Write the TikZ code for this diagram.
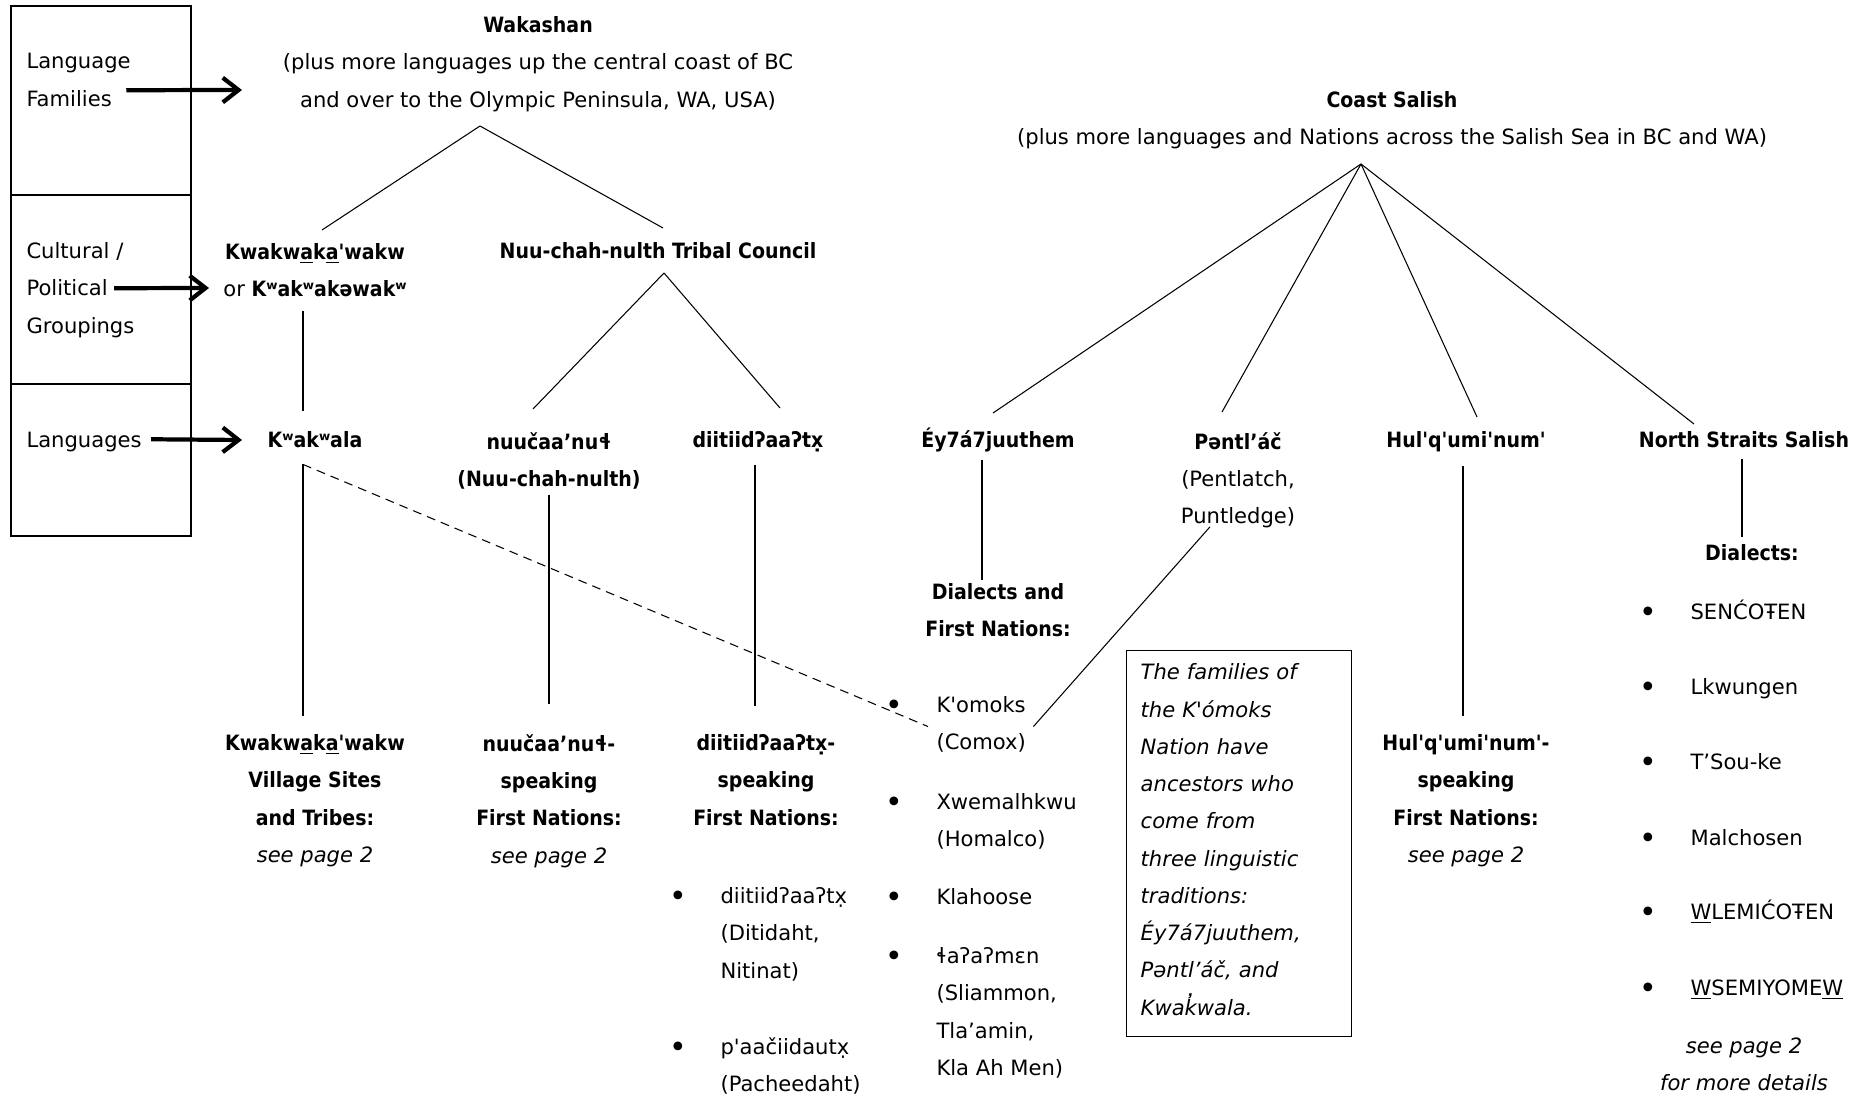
\documentclass[tikz,border=0pt]{standalone}
\usepackage{fontspec}
\setmainfont{DejaVu Sans}[Ligatures=TeXOff,BoldFont={DejaVu Sans Condensed Bold}]
\usepackage{tikz}
\usetikzlibrary{calc}
\usetikzlibrary{arrows.meta}
\newcommand{\dsize}{\fontsize{12}{21.2}\selectfont}
\newcommand{\bul}{\llap{\raisebox{-1.5pt}{\fontsize{17}{17}\selectfont\textbullet}\hspace{0.663cm}}}

\begin{document}
\begin{tikzpicture}[x=0.2mm, y=-0.2mm, line width=0.6pt,
  every node/.style={inner sep=0pt, font=\dsize, execute at begin node={\rule{0pt}{12pt}}},
  lbl/.style={anchor=north west},
  txt/.style={anchor=north, align=center},
  hd/.style={txt, font=\dsize\bfseries},
  itm/.style={anchor=north west, align=left},
  bigarr/.style={line width=2.4pt, -{Straight Barb[length=9pt,width=14pt]}},
  dashln/.style={dash pattern=on 5pt off 3.5pt},
  notebox/.style={draw, line width=0.8pt, anchor=north west, align=left, text width=3.94cm, inner xsep=0.28cm, inner ysep=0.16cm, font=\dsize\itshape, execute at end node={\rule[-7.5pt]{0pt}{1pt}}}]
\useasboundingbox (0,0) rectangle (1850,1096);

% key on the left
\draw[line width=0.8pt] (11,6) rectangle (191,536);
\draw[line width=0.8pt] (11,195) -- (191,195) (11,384) -- (191,384);
\node[lbl] (lf1) at (26,47) {Language};
\node[lbl] (lf2) at (26,85) {Families};
\node[lbl] (cp1) at (26,237) {Cultural /};
\node[lbl] (cp2) at (26,274) {Political};
\node[lbl] (cp3) at (26,312) {Groupings};
\node[lbl] (lg) at (26,426) {Languages};
\coordinate (famtip) at (242,90);
\coordinate (poltip) at (209,288);
\coordinate (lngtip) at (242,440);
\draw[bigarr] ($(lf2.east)+(14,-6)$) -- (famtip);
\draw[bigarr] ($(cp2.east)+(6,3)$) -- (poltip);
\draw[bigarr] ($(lg.east)+(9,0)$) -- (lngtip);

% Wakashan
\node[txt] (wak) at (538,16) {{\bfseries Wakashan}\\(plus more languages up the central coast of BC\\and over to the Olympic Peninsula, WA, USA)};
\coordinate (wak-top) at (480,126);
\node[txt] (kwg) at (315,243) {\textbf{Kwakw\underline{a}k\underline{a}'wakw}\\or \textbf{Kʷakʷakəwakʷ}};
\node[hd] (ntc) at (658,237) {Nuu-chah-nulth Tribal Council};
\coordinate (ntc-top) at (664,273);
\draw (wak-top) -- ($(kwg.north)+(7,-13)$);
\draw (wak-top) -- ($(ntc.north)+(5,-9)$);

\node[hd] (kwl) at (315,426) {Kʷakʷala};
\node[hd] (nuu) at (549,432) {nuučaa’nuɬ\\(Nuu-chah-nulth)};
\node[hd] (diit) at (758,426) {diitiidʔaaʔtx̣};
\draw (ntc-top) -- ($(nuu.north)+(-16,-23)$);
\draw (ntc-top) -- ($(diit.north)+(22,-18)$);

\node[txt] (kwb) at (315,734) {\textbf{Kwakw\underline{a}k\underline{a}'wakw}\\\textbf{Village Sites}\\\textbf{and Tribes:}\\\textit{see page 2}};
\node[txt] (nuub) at (549,734) {\textbf{nuučaa’nuɬ-}\\\textbf{speaking}\\\textbf{First Nations:}\\\textit{see page 2}};
\node[hd] (diitb) at (766,734) {diitiidʔaaʔtx̣-\\speaking\\First Nations:};
\draw ($(kwg.south)+(-12,13)$) -- ($(kwl.north)+(-12,-15)$);
\draw ($(kwl.south)+(-12,16)$) -- ($(kwl.south |- kwb.north)+(-12,-18)$);
\draw ($(nuu.south)+(0,5)$) -- ($(nuu.south |- nuub.north)+(0,-30)$);
\draw ($(diit.south)+(-3,12)$) -- ($(diit.south |- diitb.north)+(-3,-28)$);

\node[itm] (di1) at (720,887) {\bul diitiidʔaaʔtx̣\\(Ditidaht,\\Nitinat)};
\node[itm] (di2) at (720,1037) {\bul p'aačiidautx̣\\(Pacheedaht)};

% Coast Salish
\node[txt] (cs) at (1392,91) {{\bfseries Coast Salish}\\(plus more languages and Nations across the Salish Sea in BC and WA)};
\coordinate (cs-top) at (1361,164);
\node[hd] (ey) at (998,426) {Éy7á7juuthem};
\node[txt] (pen) at (1238,432) {{\bfseries Pəntl’áč}\\(Pentlatch,\\Puntledge)};
\node[hd] (hul) at (1466,426) {Hul'q'umi'num'};
\node[hd] (nss) at (1744,426) {North Straits Salish};
\draw (cs-top) -- ($(ey.north)+(-5,-13)$);
\draw (cs-top) -- ($(pen.north)+(-16,-20)$);
\draw (cs-top) -- ($(hul.north)+(11,-9)$);
\draw (cs-top) -- ($(nss.north)+(-50,-2)$);

\node[hd] (eyd) at (998,583) {Dialects and\\First Nations:};
\draw ($(ey.south)+(-16,7)$) -- ($(eyd.north)+(-16,-3)$);
\node[itm] (kom) at (936,696) {\bul K'omoks\\(Comox)};
\node[itm] (xwe) at (936,793) {\bul Xwemalhkwu\\(Homalco)};
\node[itm] (kla) at (936,883) {\bul Klahoose};
\node[itm] (tla) at (936,947) {\bul ɬaʔaʔmɛn\\(Sliammon,\\Tla’amin,\\Kla Ah Men)};
\draw ($(pen.south)+(-28,-2)$) -- ($(kom.east)+(7,2)$);
\draw[dashln] ($(kwl.south)+(-12,16)$) -- ($(kom.west)+(-8,2)$);

\node[notebox] (note) at (1126,650) {The families of\\the K'ómoks\\Nation have\\ancestors who\\come from\\three linguistic\\traditions:\\Éy7á7juuthem,\\Pəntl’áč, and\\Kwak̓wala.};

\node[txt] (hulb) at (1466,734) {\textbf{Hul'q'umi'num'-}\\\textbf{speaking}\\\textbf{First Nations:}\\\textit{see page 2}};
\draw ($(hul.south)+(-3,13)$) -- ($(hul.south |- hulb.north)+(-3,-18)$);

\node[hd] (nssd) at (1752,539) {Dialects:};
\draw ($(nss.south)+(-2,11)$) -- ($(nss.south |- nssd.north)+(-2,-2)$);
\node[itm] (sen) at (1690,598) {\bul SENĆOŦEN};
\node[itm] (lkw) at (1690,673) {\bul Lkwungen};
\node[itm] (tso) at (1690,748) {\bul T’Sou-ke};
\node[itm] (mal) at (1690,824) {\bul Malchosen};
\node[itm] (wle) at (1690,898) {\bul \underline{W}LEMIĆOŦEN};
\node[itm] (wse) at (1690,974) {\bul \underline{W}SEMIYOME\underline{W}};
\node[txt, font=\dsize\itshape] (nssb) at (1744,1037) {see page 2\\for more details};
\end{tikzpicture}
\end{document}
